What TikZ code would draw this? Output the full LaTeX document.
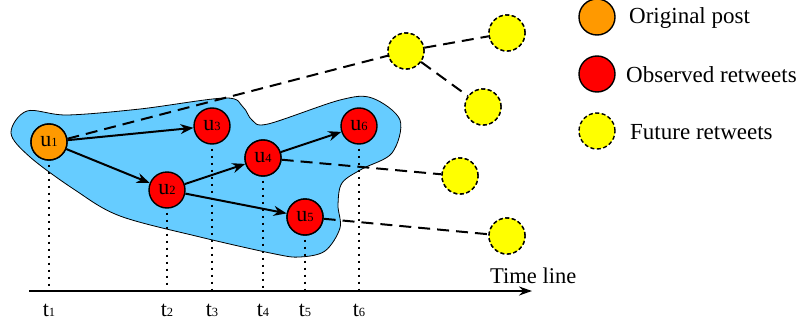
\documentclass[tikz,border=0pt]{standalone}
\usepackage{fontspec}
\setmainfont{Liberation Serif}
\usetikzlibrary{arrows.meta}
\definecolor{blobblue}{RGB}{102,204,255}
\definecolor{origorange}{RGB}{255,153,0}
\definecolor{obsred}{RGB}{255,0,0}
\definecolor{futyellow}{RGB}{255,255,0}
\newcommand{\ulab}[2]{{\fontsize{22}{22}\selectfont #1}{\fontsize{12.5}{12.5}\selectfont #2}}
\tikzset{
  usernode/.style={circle, draw=black, line width=1.4pt, minimum size=36pt, inner sep=0pt},
  orignode/.style={usernode, fill=origorange},
  obsnode/.style={usernode, fill=obsred},
  futnode/.style={usernode, fill=futyellow, dash pattern=on 4pt off 2.5pt},
  retw/.style={line width=2pt, -{Stealth[length=13pt,width=10pt]}},
  futline/.style={line width=2pt, dash pattern=on 12pt off 7pt},
  timedots/.style={line width=2.2pt, dash pattern=on 2pt off 5pt},
  legtext/.style={anchor=west, font=\fontsize{23}{23}\selectfont, inner sep=0pt},
  tlab/.style={anchor=base, inner sep=0pt}
}
\begin{document}
\begin{tikzpicture}[x=1pt,y=-1pt]
\useasboundingbox (0,0) rectangle (802,329);
% blob
\draw[fill=blobblue, line width=0.8pt] plot[smooth cycle, tension=0.55] coordinates {
 (11,133) (27,111) (67,115) (140,109) (225,98) (243,107) (252,120) (268,124)
 (340,100) (372,98) (400,120) (392,153) (362,169) (342,183) (338,205)
 (340,228) (325,251) (300,257) (275,254) (200,237) (120,216) (75,190) (30,157)};
% nodes
\node[orignode] (u1) at (49,142) {\ulab{u}{1}};
\node[obsnode] (u2) at (167,190) {\ulab{u}{2}};
\node[obsnode] (u3) at (212,126) {\ulab{u}{3}};
\node[obsnode] (u4) at (263,158) {\ulab{u}{4}};
\node[obsnode] (u5) at (305,217) {\ulab{u}{5}};
\node[obsnode] (u6) at (359,126) {\ulab{u}{6}};
\node[futnode] (y1) at (406,51) {};
\node[futnode] (y2) at (507,33) {};
\node[futnode] (y3) at (483,107) {};
\node[futnode] (y4) at (460,176) {};
\node[futnode] (y5) at (507,236) {};
% future dashed lines
\draw[futline] (u1.10) -- (y1);
\draw[futline] (y1) -- (y2);
\draw[futline] (y1) -- (y3);
\draw[futline] (u4) -- (y4);
\draw[futline] (u5) -- (y5);
% redraw nodes on top of dashed lines
\node[orignode] at (u1) {\ulab{u}{1}};
\node[obsnode] at (u4) {\ulab{u}{4}};
\node[obsnode] at (u5) {\ulab{u}{5}};
\node[futnode] at (y1) {};
\node[futnode] at (y2) {};
\node[futnode] at (y3) {};
\node[futnode] at (y4) {};
\node[futnode] at (y5) {};
% retweet arrows
\draw[retw] (u1) -- (u3);
\draw[retw] (u1) -- (u2);
\draw[retw] (u2) -- (u4);
\draw[retw] (u2) -- (u5);
\draw[retw] (u4) -- (u6);
% time axis
\coordinate (ax0) at (29,291);
\coordinate (ax1) at (532,291);
\draw[line width=2pt, -{Stealth[length=13pt,width=9pt]}] (ax0) -- (ax1);
\node[anchor=base west, inner sep=0pt, font=\fontsize{22.5}{22.5}\selectfont] (tl) at (490,283) {Time line};
\foreach \n/\x in {1/49,2/167,3/212,4/263,5/305,6/359}{
  \coordinate (d\n) at (\x,289);
  \draw[timedots] (u\n.south) ++(0,4) -- (d\n);
  \node[tlab] (t\n) at (\x,316) {\ulab{t}{\n}};
}
% legend
\node[orignode] (lo) at (597,17) {};
\node[obsnode] (lr) at (597,74) {};
\node[futnode] (ly) at (597,131) {};
\node[legtext] (lot) at (629,18) {Original post};
\node[legtext] (lrt) at (626,75) {Observed retweets};
\node[legtext] (lyt) at (630,132) {Future retweets};
\end{tikzpicture}
\end{document}
